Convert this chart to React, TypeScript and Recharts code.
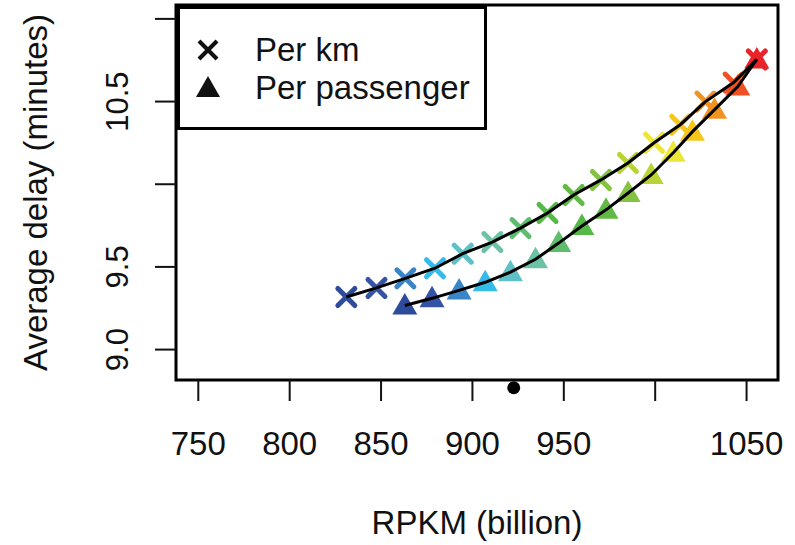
import { ComposedChart, Scatter, XAxis, YAxis, ReferenceArea, ReferenceDot, Legend } from 'recharts'

// RPKM (billion) and average delay (minutes)
const perKmRpkm = [831.0, 847.5, 863.3, 879.5, 894.7, 910.9, 926.3, 941.1, 955.4, 970.3, 985.1, 999.4, 1013.7, 1027.5, 1042.9, 1055.6]
const perKmDelay = [9.318, 9.373, 9.431, 9.492, 9.58, 9.65, 9.735, 9.826, 9.935, 10.026, 10.129, 10.251, 10.36, 10.5, 10.615, 10.755]
const perPassengerRpkm = [863.0, 877.9, 892.7, 907.0, 920.8, 934.5, 947.2, 959.9, 973.1, 985.2, 997.8, 1009.9, 1020.4, 1032.5, 1045.2, 1055.6]
const perPassengerDelay = [9.267, 9.31, 9.358, 9.407, 9.468, 9.546, 9.644, 9.747, 9.845, 9.947, 10.056, 10.19, 10.318, 10.451, 10.591, 10.755]
const pointColors = ['#2e4b9b', '#3553a5', '#3a85c6', '#36bbe8', '#5fc1c6', '#6bc2a4', '#5dbd6c', '#55b847', '#62ba45', '#84c341', '#b8d435', '#ece53a', '#f6c61b', '#f29320', '#ee5224', '#e8232a']

const xDomain = [737.8, 1067.2]
const yDomain = [8.816, 11.084]
const xTicks = [750, 800, 850, 900, 950, 1000, 1050]
const xTickLabels = ['750', '800', '850', '900', '950', '', '1050']
const yTicks = [9, 9.5, 10, 10.5, 11]
const yTickLabels = ['9.0', '9.5', '', '10.5', '']
const strayPoint = { rpkm: 922.6, delay: 8.769 }

const FONT = '"Liberation Sans", Arial, Helvetica, sans-serif'
const INK = '#111'

const perKm = perKmRpkm.map((x, i) => ({ x, y: perKmDelay[i], color: pointColors[i] }))
const perPassenger = perPassengerRpkm.map((x, i) => ({ x, y: perPassengerDelay[i], color: pointColors[i] }))

function Cross(props: any) {
  const { cx, cy, payload } = props
  const r = 8.5
  return (
    <g stroke={payload.color} strokeWidth={5} strokeLinecap="round">
      <line x1={cx - r} y1={cy - r} x2={cx + r} y2={cy + r} />
      <line x1={cx - r} y1={cy + r} x2={cx + r} y2={cy - r} />
    </g>
  )
}

function Tri(props: any) {
  const { cx, cy, payload } = props
  return <polygon points={`${cx},${cy - 12.5} ${cx - 12.5},${cy + 9} ${cx + 12.5},${cy + 9}`} fill={payload.color} />
}

const NoDot = () => <g />

function XTick({ x, y, payload }: any) {
  const label = xTickLabels[xTicks.indexOf(payload.value)]
  return (
    <g>
      <line x1={x} y1={y} x2={x} y2={y + 21} stroke={INK} strokeWidth={2} />
      <text x={x} y={y + 75} textAnchor="middle" fontSize={33} fontFamily={FONT} fill={INK}>{label}</text>
    </g>
  )
}

function YTick({ x, y, payload }: any) {
  const label = yTickLabels[yTicks.indexOf(payload.value)]
  const bx = x - 48
  return (
    <g>
      <line x1={x - 21} y1={y} x2={x} y2={y} stroke={INK} strokeWidth={2} />
      <text x={bx} y={y} transform={`rotate(-90 ${bx} ${y})`} textAnchor="middle" fontSize={31} fontFamily={FONT} fill={INK}>{label}</text>
    </g>
  )
}

function XTitle({ viewBox }: any) {
  const cx = viewBox.x + viewBox.width / 2
  return <text x={cx} y={534} textAnchor="middle" fontSize={33} fontFamily={FONT} fill={INK}>RPKM (billion)</text>
}

function YTitle({ viewBox }: any) {
  const cy = viewBox.y + viewBox.height / 2
  const bx = 47
  return <text x={bx} y={cy} transform={`rotate(-90 ${bx} ${cy})`} textAnchor="middle" fontSize={33} fontFamily={FONT} fill={INK}>Average delay (minutes)</text>
}

function LegendBox() {
  return (
    <svg width={310} height={125} style={{ display: 'block' }}>
      <rect x={1.5} y={1.5} width={307} height={121} fill="#fff" stroke="#000" strokeWidth={3} />
      <g stroke={INK} strokeWidth={4}>
        <line x1={22} y1={35} x2={40} y2={53} />
        <line x1={22} y1={53} x2={40} y2={35} />
      </g>
      <polygon points="31,70 19,91 43,91" fill={INK} />
      <text x={78} y={55} fontSize={33} fontFamily={FONT} fill={INK}>Per km</text>
      <text x={78} y={93} fontSize={33} fontFamily={FONT} fill={INK}>Per passenger</text>
    </svg>
  )
}

export default function App() {
  return (
    <div style={{ position: 'absolute', left: 0, top: 0, background: '#fff' }}>
      <ComposedChart width={795} height={545} margin={{ top: 5, right: 17, left: 0, bottom: 0 }}>
        <XAxis
          type="number"
          dataKey="x"
          domain={xDomain}
          allowDataOverflow
          ticks={xTicks}
          interval={0}
          height={165}
          tickSize={0}
          tickMargin={0}
          axisLine={false}
          tickLine={false}
          tick={<XTick />}
          label={{ content: XTitle }}
        />
        <YAxis
          type="number"
          dataKey="y"
          domain={yDomain}
          allowDataOverflow
          ticks={yTicks}
          interval={0}
          width={176}
          tickSize={0}
          tickMargin={0}
          axisLine={false}
          tickLine={false}
          tick={<YTick />}
          label={{ content: YTitle }}
        />
        <ReferenceArea
          x1={xDomain[0]}
          x2={xDomain[1]}
          y1={yDomain[0]}
          y2={yDomain[1]}
          fill="none"
          fillOpacity={0}
          stroke="#000"
          strokeWidth={3}
          strokeOpacity={1}
          ifOverflow="visible"
        />
        <Scatter name="Per km" data={perKm} shape={Cross} isAnimationActive={false} />
        <Scatter name="Per passenger" data={perPassenger} shape={Tri} isAnimationActive={false} />
        <Scatter data={perKm} shape={NoDot} line={{ stroke: '#000', strokeWidth: 3 }} isAnimationActive={false} legendType="none" />
        <Scatter data={perPassenger} shape={NoDot} line={{ stroke: '#000', strokeWidth: 3 }} isAnimationActive={false} legendType="none" />
        <ReferenceDot x={strayPoint.rpkm} y={strayPoint.delay} r={6.5} fill="#000" stroke="none" ifOverflow="visible" />
        <Legend
          layout="vertical"
          align="center"
          verticalAlign="middle"
          content={() => <LegendBox />}
          wrapperStyle={{ position: 'absolute', left: 177, top: 6, width: 310, height: 125 }}
        />
      </ComposedChart>
    </div>
  )
}
